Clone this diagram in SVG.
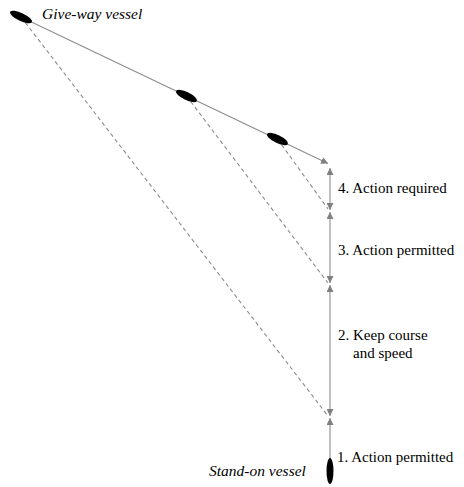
<svg xmlns="http://www.w3.org/2000/svg" width="464" height="487" viewBox="0 0 464 487">
  <style>
    .track { stroke: #8c8c8c; stroke-width: 1.1; fill: none; }
    .dash { stroke: #8c8c8c; stroke-width: 1.1; fill: none; stroke-dasharray: 4 3; }
    .vessel { fill: #000; }
    .lbl { font-family: "Liberation Serif", "Times New Roman", serif; font-size: 15px; fill: #000; }
    .name { font-family: "Liberation Serif", "Times New Roman", serif; font-size: 15.5px; font-style: italic; fill: #000; }
  </style>
  <defs>
    <marker id="arr" viewBox="0 0 10 10" refX="10" refY="5" markerWidth="7" markerHeight="7" markerUnits="userSpaceOnUse" orient="auto-start-reverse">
      <path d="M0,0 L10,5 L0,10 z" fill="#808080"/>
    </marker>
  </defs>
  <g id="connectors">
    <line class="track" x1="21" y1="17" x2="328" y2="163.5" marker-end="url(#arr)"/>
    <line class="dash" x1="21" y1="17" x2="328" y2="416"/>
    <line class="dash" x1="186.5" y1="96" x2="328" y2="283"/>
    <line class="dash" x1="277.5" y1="139" x2="328" y2="209"/>
    <line class="track" x1="330" y1="168" x2="330" y2="210" marker-start="url(#arr)" marker-end="url(#arr)"/>
    <line class="track" x1="330" y1="212" x2="330" y2="283" marker-start="url(#arr)" marker-end="url(#arr)"/>
    <line class="track" x1="330" y1="285" x2="330" y2="416" marker-start="url(#arr)" marker-end="url(#arr)"/>
    <line class="track" x1="330" y1="418" x2="330" y2="460" marker-start="url(#arr)"/>
  </g>
  <g id="give-way-vessel">
    <ellipse class="vessel" cx="21" cy="17" rx="12" ry="4" transform="rotate(25.5 21 17)"/>
    <text class="name" x="42" y="19">Give-way vessel</text>
  </g>
  <g id="give-way-position-2">
    <ellipse class="vessel" cx="186.5" cy="96" rx="11.5" ry="4" transform="rotate(25.5 186.5 96)"/>
  </g>
  <g id="give-way-position-3">
    <ellipse class="vessel" cx="277.5" cy="139" rx="11.5" ry="4" transform="rotate(25.5 277.5 139)"/>
  </g>
  <g id="stand-on-vessel">
    <ellipse class="vessel" cx="330" cy="471" rx="3.5" ry="13"/>
    <text class="name" x="209" y="476">Stand-on vessel</text>
  </g>
  <g id="label-4">
    <text class="lbl" x="338" y="193">4. Action required</text>
  </g>
  <g id="label-3">
    <text class="lbl" x="338" y="255">3. Action permitted</text>
  </g>
  <g id="label-2">
    <text class="lbl" x="338" y="340">2. Keep course</text>
    <text class="lbl" x="353" y="358">and speed</text>
  </g>
  <g id="label-1">
    <text class="lbl" x="337" y="462">1. Action permitted</text>
  </g>
</svg>
